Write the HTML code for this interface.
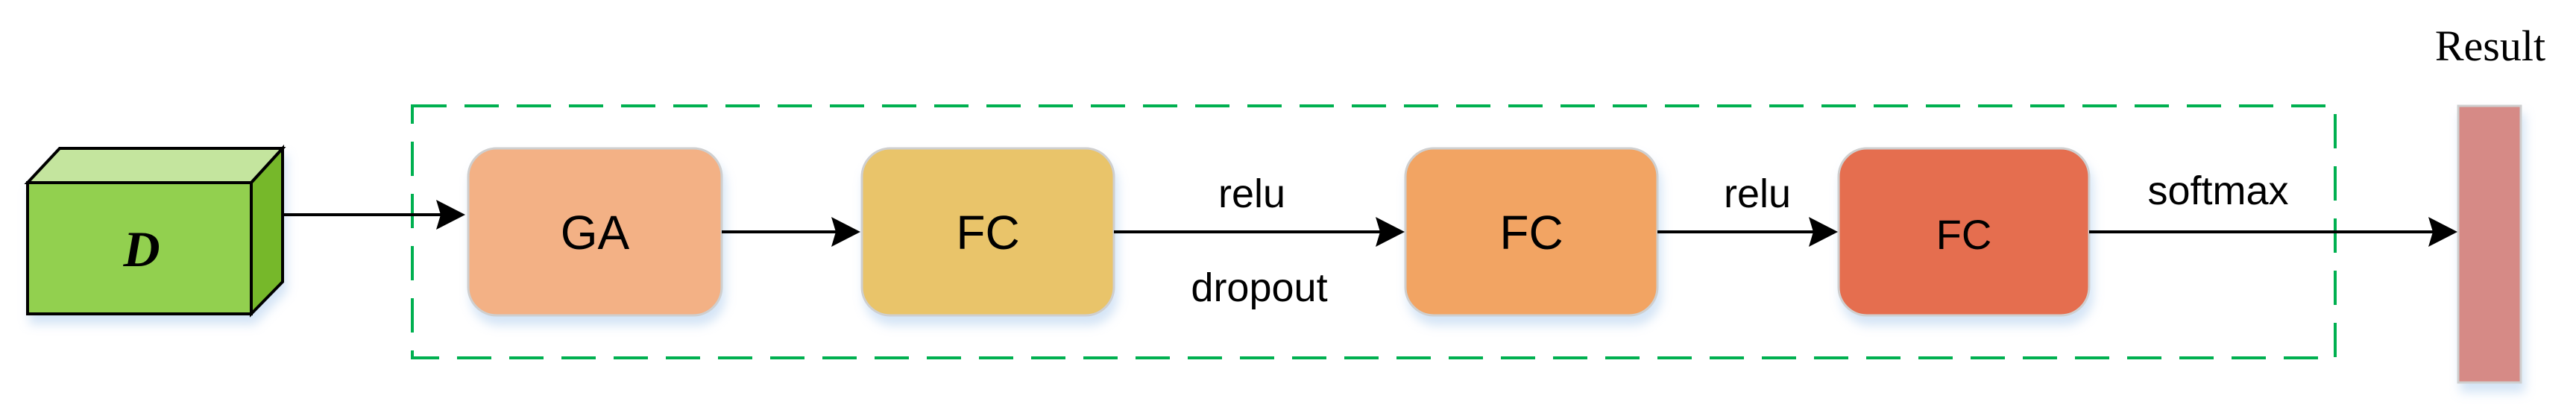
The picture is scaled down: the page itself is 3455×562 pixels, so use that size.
<!DOCTYPE html>
<html><head><meta charset="utf-8"><style>
html,body{margin:0;padding:0;background:#fff;}
svg{display:block;}
</style></head><body>
<svg width="3455" height="562" viewBox="0 0 3455 562" xmlns="http://www.w3.org/2000/svg">
<defs>
<filter id="sh" x="-20%" y="-20%" width="140%" height="150%">
<feDropShadow dx="4" dy="12" stdDeviation="7" flood-color="#9fc3ea" flood-opacity="0.45"/>
</filter>
<marker id="ah" markerWidth="10" markerHeight="10" refX="9" refY="5" orient="auto" markerUnits="userSpaceOnUse" viewBox="0 0 10 10">
</marker>
</defs>
<!-- dashed box -->
<rect x="553" y="142" width="2579" height="338" fill="none" stroke="#00b050" stroke-width="4" stroke-dasharray="46,24"/>
<!-- cube -->
<g filter="url(#sh)" stroke="#000" stroke-width="4" stroke-linejoin="miter">
<polygon points="37,245 80,199 379,199 337,245" fill="#c4e59e"/>
<polygon points="337,245 379,199 379,378 337,421" fill="#76b82a"/>
<rect x="37" y="245" width="300" height="176" fill="#92d050"/>
</g>
<text x="190" y="357" font-family="Liberation Serif, serif" font-style="italic" font-weight="bold" font-size="68" text-anchor="middle">D</text>
<!-- boxes -->
<g filter="url(#sh)" stroke="#cfcfcf" stroke-width="3">
<rect x="628" y="199" width="340" height="224" rx="38" fill="#f3b185"/>
<rect x="1156" y="199" width="338" height="224" rx="38" fill="#e9c46a"/>
<rect x="1885" y="199" width="338" height="224" rx="38" fill="#f2a463"/>
<rect x="2466" y="199" width="336" height="224" rx="38" fill="#e56e50"/>
<rect x="3297" y="142" width="84" height="371" fill="#d68a86"/>
</g>
<g font-family="Liberation Sans, sans-serif" font-size="64" text-anchor="middle" fill="#000">
<text x="798" y="334">GA</text>
<text x="1325" y="334">FC</text>
<text x="2054" y="334">FC</text>
<text x="2634" y="334" font-size="56">FC</text>
</g>
<g font-family="Liberation Sans, sans-serif" font-size="54" text-anchor="middle" fill="#000">
<text x="1679" y="278">relu</text>
<text x="1689" y="404">dropout</text>
<text x="2357" y="278">relu</text>
<text x="2975" y="274">softmax</text>
</g>
<text x="3340" y="81" font-family="Liberation Serif, serif" font-size="58" text-anchor="middle">Result</text>
<!-- arrows -->
<g stroke="#000" stroke-width="4" fill="none">
<line x1="380" y1="288" x2="600" y2="288"/>
<line x1="968" y1="311" x2="1130" y2="311"/>
<line x1="1494" y1="311" x2="1860" y2="311"/>
<line x1="2223" y1="311" x2="2440" y2="311"/>
<line x1="2802" y1="311" x2="3270" y2="311"/>
</g>
<g fill="#000">
<polygon points="624,288 585,268 591,288 585,308"/>
<polygon points="1154,311 1115,291 1121,311 1115,331"/>
<polygon points="1884,311 1845,291 1851,311 1845,331"/>
<polygon points="2465,311 2426,291 2432,311 2426,331"/>
<polygon points="3296,311 3257,291 3263,311 3257,331"/>
</g>
</svg>
</body></html>
